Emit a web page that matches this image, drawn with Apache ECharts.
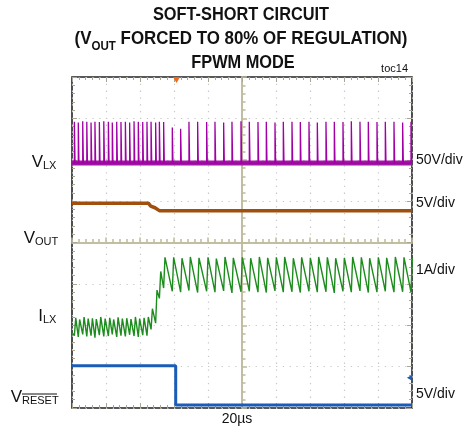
<!DOCTYPE html>
<html><head><meta charset="utf-8">
<script src="https://cdn.jsdelivr.net/npm/echarts@6/dist/echarts.min.js"></script>
<style>html,body{margin:0;padding:0;background:#fff}#c{width:465px;height:433px}</style>
</head><body><div id="c"></div>
<script>
// time axis: 20us/div, 10 divisions, centred on 0 ; vertical: 8 divisions (-4..4)
const xScale = { min: -100, max: 100, interval: 20 };
const yScale = { min: -4, max: 4, interval: 1 };

// VLX switching pulses (us)
const pulseTimes = [-98.6,-96.3,-93.7,-91.3,-88.8,-86.5,-83.9,-81.3,-78.6,-76.3,-73.7,-71.2,-68.6,-66.1,-63.5,-61.0,-58.4,-55.9,
  -53.5,-50.8,-48.6,-46.1,-41.0,-36.1,-31.2,-26.1,-20.8,-15.9,-10.8,-5.9,-0.6,4.3,9.4,14.3,19.4,24.3,29.4,34.3,39.4,44.3,
  49.4,54.3,59.4,64.3,69.4,74.3,79.4,84.3,89.4,94.5,99.4];
const vlxLow = 1.92;
const vlxHigh = [2.92,2.9,2.93,2.92,2.9,2.92,2.91,2.93,2.92,2.9,2.92,2.91,2.92,2.9,2.93,2.92,2.91,2.92,
  2.92,2.9,2.92,2.91,2.78,2.75,2.92,2.92,2.91,2.92,2.9,2.92,2.93,2.92,2.91,2.92,2.9,2.92,2.92,2.91,2.92,2.9,
  2.92,2.92,2.91,2.93,2.92,2.92,2.91,2.92,2.92,2.9,2.92];

// ILX per switching cycle: valley (at pulse start) and peak (end of rise), in divisions
const ilxValley = [-2.25,-2.28,-2.22,-2.27,-2.25,-2.3,-2.24,-2.27,-2.26,-2.22,-2.28,-2.25,-2.27,-2.23,-2.26,-2.28,-2.24,-2.25,
  -2.1,-1.95,-1.35,-1.1,-1.18,-1.2,-1.16,-1.21,-1.18,-1.2,-1.17,-1.22,-1.19,-1.18,-1.2,-1.21,-1.17,-1.2,-1.19,-1.21,-1.18,-1.2,
  -1.19,-1.22,-1.18,-1.2,-1.17,-1.21,-1.2,-1.18,-1.2,-1.19,-1.2];
const ilxPeak = [-1.82,-1.86,-1.8,-1.84,-1.83,-1.85,-1.8,-1.84,-1.82,-1.86,-1.81,-1.84,-1.83,-1.85,-1.8,-1.84,-1.82,-1.8,
  -1.6,-1.15,-0.7,-0.36,-0.36,-0.38,-0.35,-0.37,-0.36,-0.39,-0.35,-0.37,-0.36,-0.38,-0.35,-0.37,-0.36,-0.35,-0.38,-0.36,-0.37,-0.35,
  -0.36,-0.38,-0.37,-0.35,-0.36,-0.38,-0.36,-0.37,-0.35,-0.36,-0.37];
const ilxStart = -2.2;
const riseTime = 0.8;
const pulseWidth = 0.4;

// VOUT
const voutTimes = [-100, -55.1, -53.7, -51.2, -48.6, 100];
const voutLevels = [0.95, 0.95, 0.88, 0.84, 0.77, 0.77];

// VRESET
const resetTimes = [-100, -39.0, -39.0, 100];
const resetLevels = [-2.98, -2.98, -3.93, -3.93];

const triggerTime = -38.5;
const resetRefLevel = -3.27;

const titleLines = ['SOFT-SHORT CIRCUIT', '(V{s|OUT} FORCED TO 80% OF REGULATION)', 'FPWM MODE'];
const scaleLabels = ['50V/div', '5V/div', '1A/div', '5V/div'];
const timeLabel = '20µs';

// build series data
const vlxData = [[xScale.min, vlxLow]];
pulseTimes.forEach((t, i) => {
  vlxData.push([t, vlxLow], [t, vlxHigh[i]], [t + pulseWidth, vlxHigh[i]], [t + pulseWidth, vlxLow]);
});
vlxData.push([xScale.max, vlxLow]);
const ilxData = [[xScale.min, ilxStart]];
pulseTimes.forEach((t, i) => { ilxData.push([t, ilxValley[i]], [t + riseTime, ilxPeak[i]]); });
const voutData = voutTimes.map((t, i) => [t, voutLevels[i]]);
const resetData = resetTimes.map((t, i) => [t, resetLevels[i]]);

const tan = '#bfba9c';
const edge = '#a9a694';
function xAx(extra) {
  return Object.assign({ type: 'value', min: xScale.min, max: xScale.max, interval: xScale.interval,
    axisLabel: { show: false }, splitLine: { show: false } }, extra);
}
function yAx(extra) {
  return Object.assign({ type: 'value', min: yScale.min, max: yScale.max, interval: yScale.interval,
    axisLabel: { show: false }, splitLine: { show: false } }, extra);
}
const dotted = { show: true, lineStyle: { color: '#c8c8c8', width: 1.2, type: [1.3, 5.5] } };
const titleFont = 'bold 19px "Liberation Sans", Arial, sans-serif';

const chart = echarts.init(document.getElementById('c'), null, { renderer: 'canvas' });
chart.setOption({
  animation: false,
  grid: { left: 72, right: 53, top: 77, bottom: 25, show: true, borderColor: '#222', borderWidth: 1.6, backgroundColor: '#fff' },
  xAxis: [
    xAx({ splitLine: dotted, axisLine: { show: true, onZero: true, onZeroAxisIndex: 0, lineStyle: { color: tan, width: 1.5 } },
      axisTick: { show: true, inside: true, length: 5, lineStyle: { color: tan, width: 1.5 } },
      minorTick: { show: true, splitNumber: 5, length: 3.5, lineStyle: { color: tan, width: 1.5 } } }),
    xAx({ axisLine: { show: true, onZero: true, onZeroAxisIndex: 1, lineStyle: { color: tan, width: 1.5 } },
      axisTick: { show: true, inside: false, length: 5, lineStyle: { color: tan, width: 1.5 } },
      minorTick: { show: true, splitNumber: 5, length: 3.5, lineStyle: { color: tan, width: 1.5 } } }),
    xAx({ position: 'bottom', axisLine: { show: false, onZero: false },
      axisTick: { show: true, inside: true, length: 5, lineStyle: { color: edge } },
      minorTick: { show: true, splitNumber: 5, length: 3, lineStyle: { color: edge } } }),
    xAx({ position: 'top', axisLine: { show: false, onZero: false },
      axisTick: { show: true, inside: true, length: 5, lineStyle: { color: edge } },
      minorTick: { show: true, splitNumber: 5, length: 3, lineStyle: { color: edge } } })
  ],
  yAxis: [
    yAx({ splitLine: dotted, axisLine: { show: true, onZero: true, onZeroAxisIndex: 0, lineStyle: { color: tan, width: 1.5 } },
      axisTick: { show: true, inside: true, length: 5, lineStyle: { color: tan, width: 1.5 } },
      minorTick: { show: true, splitNumber: 5, length: 3.5, lineStyle: { color: tan, width: 1.5 } } }),
    yAx({ axisLine: { show: true, onZero: true, onZeroAxisIndex: 1, lineStyle: { color: tan, width: 1.5 } },
      axisTick: { show: true, inside: false, length: 5, lineStyle: { color: tan, width: 1.5 } },
      minorTick: { show: true, splitNumber: 5, length: 3.5, lineStyle: { color: tan, width: 1.5 } } }),
    yAx({ position: 'left', axisLine: { show: false, onZero: false },
      axisTick: { show: true, inside: true, length: 5, lineStyle: { color: edge } },
      minorTick: { show: true, splitNumber: 5, length: 3, lineStyle: { color: edge } } }),
    yAx({ position: 'right', axisLine: { show: false, onZero: false },
      axisTick: { show: true, inside: true, length: 5, lineStyle: { color: edge } },
      minorTick: { show: true, splitNumber: 5, length: 3, lineStyle: { color: edge } } })
  ],
  series: [
    { type: 'line', data: [[xScale.min, vlxLow], [xScale.max, vlxLow]], symbol: 'none', lineStyle: { color: '#a218a6', width: 5 }, z: 3 },
    { type: 'line', data: vlxData, symbol: 'none', lineStyle: { color: '#a000a4', width: 1.3 }, z: 4 },
    { type: 'line', data: voutData, symbol: 'none', lineStyle: { color: '#a0500c', width: 3.5 }, z: 4 },
    { type: 'line', data: ilxData, symbol: 'none', lineStyle: { color: '#1c8c1c', width: 1.4 }, z: 4 },
    { type: 'line', data: resetData, symbol: 'none', lineStyle: { color: '#1a5cb8', width: 3 }, z: 4,
      markPoint: { silent: true, label: { show: false }, data: [
        { coord: [triggerTime, yScale.max], symbol: 'triangle', symbolRotate: 180, symbolSize: [7, 6], symbolOffset: [0, 3], itemStyle: { color: '#f06818' } },
        { coord: [xScale.max - 3, resetRefLevel], symbol: 'arrow', symbolRotate: 90, symbolSize: [5, 6], itemStyle: { color: '#1a5cb8' } }
      ] } }
  ],
  graphic: [
    { type: 'text', x: 241, y: 15, scaleX: 0.86, style: { text: titleLines[0], font: titleFont, fill: '#111', textAlign: 'center', textVerticalAlign: 'middle' } },
    { type: 'text', x: 241, y: 39, scaleX: 0.89, style: { text: titleLines[1], font: titleFont, fill: '#111', textAlign: 'center', textVerticalAlign: 'middle',
      rich: { s: { font: 'bold 13px "Liberation Sans", Arial, sans-serif', fill: '#111', verticalAlign: 'bottom', padding: [0, 0, -4, 0] } } } },
    { type: 'text', x: 243, y: 63, scaleX: 0.86, style: { text: titleLines[2], font: titleFont, fill: '#111', textAlign: 'center', textVerticalAlign: 'middle' } },
    { type: 'text', x: 408, y: 69, style: { text: 'toc14', font: '11px "Liberation Sans", Arial, sans-serif', fill: '#111', textAlign: 'right', textVerticalAlign: 'middle' } },
    // channel names
    { type: 'text', x: 43, y: 162, style: { text: 'V', font: '17px "Liberation Sans", Arial, sans-serif', fill: '#111', textAlign: 'right', textVerticalAlign: 'middle' } },
    { type: 'text', x: 43, y: 166, style: { text: 'LX', font: '11px "Liberation Sans", Arial, sans-serif', fill: '#111', textAlign: 'left', textVerticalAlign: 'middle' } },
    { type: 'text', x: 35, y: 238, style: { text: 'V', font: '17px "Liberation Sans", Arial, sans-serif', fill: '#111', textAlign: 'right', textVerticalAlign: 'middle' } },
    { type: 'text', x: 35, y: 242, style: { text: 'OUT', font: '11px "Liberation Sans", Arial, sans-serif', fill: '#111', textAlign: 'left', textVerticalAlign: 'middle' } },
    { type: 'text', x: 43, y: 316, style: { text: 'I', font: '17px "Liberation Sans", Arial, sans-serif', fill: '#111', textAlign: 'right', textVerticalAlign: 'middle' } },
    { type: 'text', x: 43, y: 320, style: { text: 'LX', font: '11px "Liberation Sans", Arial, sans-serif', fill: '#111', textAlign: 'left', textVerticalAlign: 'middle' } },
    { type: 'text', x: 22, y: 397, style: { text: 'V', font: '17px "Liberation Sans", Arial, sans-serif', fill: '#111', textAlign: 'right', textVerticalAlign: 'middle' } },
    { type: 'text', x: 22, y: 401, style: { text: 'RESET', font: '11px "Liberation Sans", Arial, sans-serif', fill: '#111', textAlign: 'left', textVerticalAlign: 'middle' } },
    { type: 'line', shape: { x1: 22, y1: 394, x2: 57, y2: 394 }, style: { stroke: '#111', lineWidth: 1 } },
    // scale labels
    { type: 'text', x: 416, y: 160, style: { text: scaleLabels[0], font: '14px "Liberation Sans", Arial, sans-serif', fill: '#111', textAlign: 'left', textVerticalAlign: 'middle' } },
    { type: 'text', x: 416, y: 203, style: { text: scaleLabels[1], font: '14px "Liberation Sans", Arial, sans-serif', fill: '#111', textAlign: 'left', textVerticalAlign: 'middle' } },
    { type: 'text', x: 416, y: 270, style: { text: scaleLabels[2], font: '14px "Liberation Sans", Arial, sans-serif', fill: '#111', textAlign: 'left', textVerticalAlign: 'middle' } },
    { type: 'text', x: 416, y: 394, style: { text: scaleLabels[3], font: '14px "Liberation Sans", Arial, sans-serif', fill: '#111', textAlign: 'left', textVerticalAlign: 'middle' } },
    { type: 'text', x: 237, y: 419, style: { text: timeLabel, font: '14px "Liberation Sans", Arial, sans-serif', fill: '#111', textAlign: 'center', textVerticalAlign: 'middle' } }
  ]
});
</script>
</body></html>
